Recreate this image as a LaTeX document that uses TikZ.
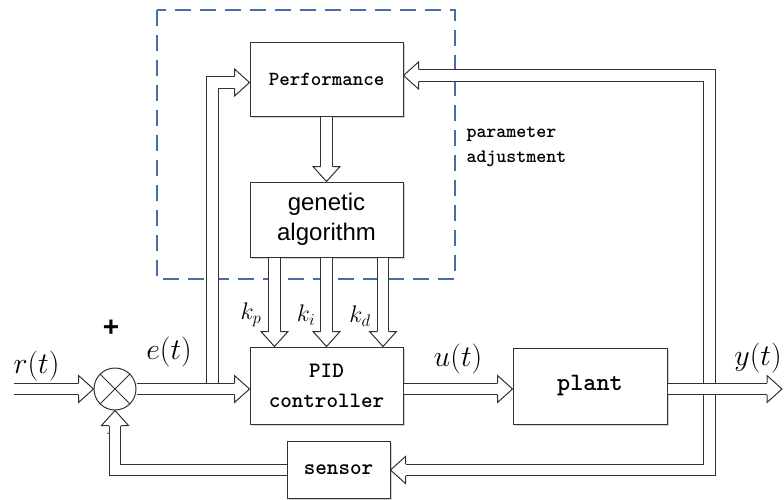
\RequirePackage{fix-cm}
\documentclass[tikz,border=0pt]{standalone}
\usepackage{fontspec}
\newfontfamily\gafont{Liberation Sans}
\usetikzlibrary{positioning,calc,shadows}
\definecolor{bordoblu}{RGB}{72,110,170}
\definecolor{linea}{RGB}{50,50,50}
\tikzset{
  blocco/.style={draw=linea, line width=1pt, fill=white, align=center,
    minimum width=153pt,
    drop shadow={shadow xshift=1.5pt, shadow yshift=-1.5pt, fill=black!45, opacity=0.4}},
  fat/.style={draw=linea, line width=1.2pt, double=white, double distance=10.4pt,
    shorten >=15pt},
  punta/.pic={\filldraw[draw=linea, fill=white, line width=1pt, line join=miter]
    (-15,5.8) -- (-15,13.5) -- (0,0) -- (-15,-13.5) -- (-15,-5.8);},
  segnale/.style={font=\fontsize{30}{34}\selectfont}
}
\begin{document}
\begin{tikzpicture}[x=1pt, y=-1pt]
    \useasboundingbox (0,0) rectangle (784,499);
    % riquadro tratteggiato
    \draw[bordoblu, line width=2.5pt, dash pattern=on 16pt off 9pt] (157,10) rectangle (455,279);
    % blocchi
    \node[blocco, minimum height=74pt, font=\ttfamily\bfseries\fontsize{20}{26}\selectfont] (perf) at (326.5,79) {Performance};
    \node[blocco, minimum height=75pt, font=\gafont\fontsize{24}{30}\selectfont] (ga) at (326.5,219.5) {genetic\\algorithm};
    \node[blocco, minimum height=77pt, font=\ttfamily\bfseries\fontsize{22}{30}\selectfont] (pid) at (326.5,385.5) {PID\\controller};
    \node[blocco, minimum width=154pt, minimum height=76pt, font=\ttfamily\bfseries\fontsize{25}{30}\selectfont] (plant) at (590,386) {plant};
    \node[blocco, minimum width=103pt, minimum height=57pt, font=\ttfamily\bfseries\fontsize{22}{28}\selectfont] (sens) at (338.5,470) {sensor};
    \node[circle, draw=linea, line width=1pt, fill=white, minimum size=42pt] (sum) at (115,389) {};
    \coordinate (rin) at (14,389);
    \coordinate (yout) at (782,389);
    \coordinate (etap) at (212.5,389);
    \coordinate (ytap) at (709.5,389);
    \coordinate (pin) at ($(perf.west)+(0,3.5)$);
    \coordinate (pfb) at ($(perf.east)+(0,-3.5)$);
    % frecce
    \draw[fat] (etap) |- (pin); \pic at (pin) {punta};
    \draw[fat] (ytap) |- (pfb); \pic[rotate=180] at (pfb) {punta};
    \draw[fat] (ytap) |- (sens.east); \pic[rotate=180] at (sens.east) {punta};
    \draw[fat] (sens.west) -| (sum.south); \pic[rotate=90] at (sum.south) {punta};
    \draw[fat] (rin) -- (sum.west); \pic at (sum.west) {punta};
    \draw[fat] (sum.east) -- (sum -| pid.west); \pic at (sum -| pid.west) {punta};
    \draw[fat] (sum -| pid.east) -- (sum -| plant.west); \pic at (sum -| plant.west) {punta};
    \draw[fat] (sum -| plant.east) -- (yout); \pic at (yout) {punta};
    \draw[fat] (perf.south) -- (ga.north); \pic[rotate=-90] at (ga.north) {punta};
    \foreach \dx in {-52,0,56.5}{
      \draw[fat] ([xshift=\dx pt]ga.south) -- ([xshift=\dx pt]pid.north);
      \pic[rotate=-90] at ([xshift=\dx pt]pid.north) {punta};
    }
    \draw[linea, line width=1pt] (sum.north west) -- (sum.south east)
      (sum.north east) -- (sum.south west);
    % etichette
    \node[segnale] (lr) at (36.5,366) {$r(t)$};
    \node[segnale] (le) at (169,352) {$e(t)$};
    \node[segnale] (lu) at (458,359) {$u(t)$};
    \node[segnale] (ly) at (758,358) {$y(t)$};
    \node[font=\gafont\bfseries\fontsize{28}{30}\selectfont] (piu) at (111,328) {+};
    \node[font=\fontsize{16}{18}\selectfont] (meno) at (108,434) {.};
    \node[font=\fontsize{24}{28}\selectfont] (kp) at (251,315) {$k_p$};
    \node[font=\fontsize{24}{28}\selectfont] (ki) at (306,315) {$k_i$};
    \node[font=\fontsize{24}{28}\selectfont] (kd) at (360,316) {$k_d$};
    \node[anchor=west, align=left, font=\ttfamily\bfseries\fontsize{19}{25}\selectfont] (padj) at (463,147) {parameter\\adjustment};
\end{tikzpicture}
\end{document}
